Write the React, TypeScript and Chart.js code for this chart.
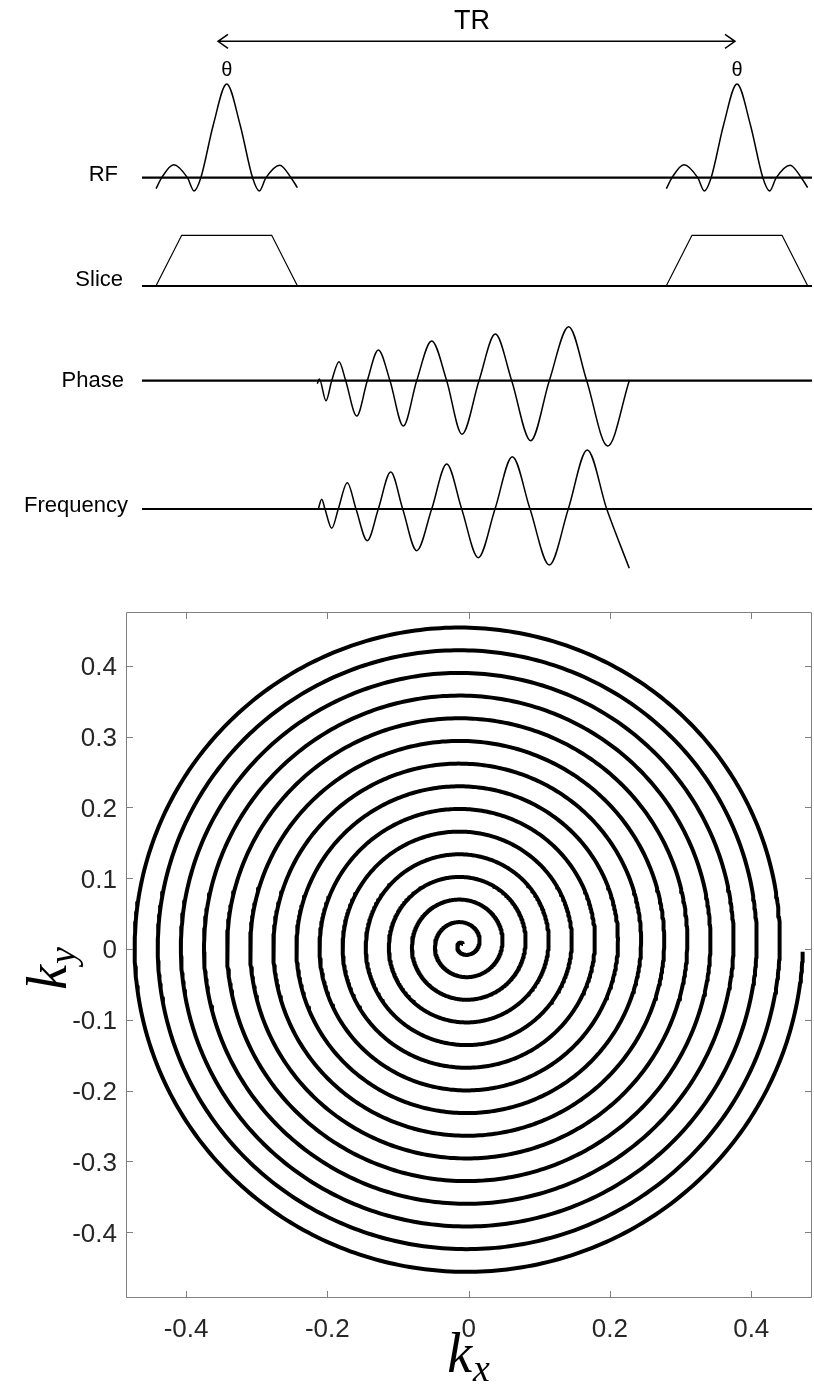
import React, { useEffect, useRef } from "react";
import { Chart, registerables } from "chart.js";

Chart.register(...registerables);

// ---------------- pulse-sequence timing diagram ----------------
// time in units where one repetition (TR) spans 10; amplitudes in a.u.
const TR = 10;

// RF excitation: sinc lobes (time, amplitude)
const rfTime = [-1.385, -1.274, -1.04, -0.77, -0.64, -0.507, -0.262, 0, 0.262, 0.507, 0.64, 0.77, 1.04, 1.26, 1.385];
const rfAmp = [-0.11, 0, 0.13, 0, -0.133, 0, 0.53, 0.937, 0.53, 0, -0.133, 0, 0.125, 0, -0.1];

// slice-select trapezoid
const sliceTime = [-1.387, -0.882, 0.882, 1.387];
const sliceAmp = [0, 0.507, 0.507, 0];

// spiral readout gradient on the phase axis
const phaseTime = [1.776, 1.815, 1.946, 2.058, 2.201, 2.332, 2.548, 2.755, 2.971, 3.2, 3.461, 3.723, 4.017, 4.311, 4.611, 4.944, 5.264, 5.585, 5.957, 6.322, 6.702, 7.055, 7.466, 7.889];
const phaseAmp = [-0.03, 0.017, -0.2, 0, 0.19, 0, -0.353, 0, 0.307, 0, -0.453, 0, 0.397, 0, -0.536, 0, 0.467, 0, -0.6, 0, 0.54, 0, -0.653, 0];

// spiral readout gradient on the frequency axis
const freqTime = [1.795, 1.862, 1.926, 2.058, 2.187, 2.363, 2.534, 2.755, 2.971, 3.214, 3.449, 3.723, 4.017, 4.311, 4.605, 4.93, 5.258, 5.597, 5.944, 6.322, 6.694, 7.066, 7.447, 7.889];
const freqAmp = [0, 0.097, 0, -0.193, 0, 0.263, 0, -0.317, 0, 0.37, 0, -0.417, 0, 0.45, 0, -0.487, 0, 0.523, 0, -0.56, 0, 0.59, 0, -0.593];

const channelNames = ["RF", "Slice", "Phase", "Frequency"];

// ---------------- k-space spiral ----------------
const kxTicks = [-0.4, -0.2, 0, 0.2, 0.4];
const kyTicks = [-0.4, -0.3, -0.2, -0.1, 0, 0.1, 0.2, 0.3, 0.4];
// trajectory: centre offset (from integrating the gradients), radius along kx,
// ky/kx ratio, number of turns and the angle of the final sample
const SPIRAL_CENTER = { kx: -0.008, ky: 0.007 };
const SPIRAL_KMAX = 0.481;
const SPIRAL_ASPECT = 0.979;
const SPIRAL_TURNS = 14.7;
const SPIRAL_END_ANGLE = -0.023;
const SPIRAL_SAMPLES = 6000;

// ---------------- layout ----------------
const SEQ_VIEW = { tMin: -4.4425, tMax: 11.509, yMin: -6, yMax: 0 };
const CHANNEL_BASE = [-1.777, -2.86, -3.807, -5.09];
const BASELINE_SPAN = [-1.66, 11.47];
const CHANNEL_LABEL_POS = [
  { t: -2.13, y: -1.75 },
  { t: -2.032, y: -2.795 },
  { t: -2.013, y: -3.81 },
  { t: -1.934, y: -5.06 },
];
const TR_ARROW = { t0: -0.17, t1: 9.961, y: -0.413, labelT: 4.807, labelY: -0.22 };
const FLIP_LABEL_Y = -0.7;
const K_RANGE = { xMin: -0.485, xMax: 0.486, yMin: -0.493, yMax: 0.476 };

const AXIS_COLOR = "#808080";
const TEXT_COLOR = "#262626";
const SANS = '"Liberation Sans", Arial, sans-serif';
const SERIF = '"Liberation Serif", "DejaVu Serif", serif';

function waveform(time: number[], amp: number[], base: number, shift = 0) {
  return time.map((t, i) => ({ x: t + shift, y: base + amp[i] }));
}

function baseline(base: number) {
  return [
    { x: BASELINE_SPAN[0], y: base },
    { x: BASELINE_SPAN[1], y: base },
  ];
}

// spiral k-space trajectory from the centre out to the last sample
function spiralPoints() {
  const pts: { x: number; y: number }[] = [];
  for (let i = 0; i <= SPIRAL_SAMPLES; i++) {
    const s = i / SPIRAL_SAMPLES;
    const r = SPIRAL_KMAX * s;
    const ang = SPIRAL_END_ANGLE - 2 * Math.PI * SPIRAL_TURNS * (1 - s);
    pts.push({
      x: SPIRAL_CENTER.kx + r * Math.cos(ang),
      y: SPIRAL_CENTER.ky + SPIRAL_ASPECT * r * Math.sin(ang),
    });
  }
  return pts;
}

const seqDecor = {
  id: "seqDecor",
  afterDatasetsDraw(chart: any) {
    const { ctx } = chart;
    const xs = chart.scales.x;
    const ys = chart.scales.y;
    ctx.save();
    ctx.fillStyle = "#000";
    ctx.strokeStyle = "#000";

    // channel names
    ctx.font = `22px ${SANS}`;
    ctx.textAlign = "right";
    ctx.textBaseline = "middle";
    channelNames.forEach((name, i) => {
      const p = CHANNEL_LABEL_POS[i];
      ctx.fillText(name, xs.getPixelForValue(p.t), ys.getPixelForValue(p.y));
    });

    // flip-angle labels above each RF pulse
    ctx.font = `20px ${SANS}`;
    ctx.textAlign = "center";
    [0, TR].forEach((t) => {
      ctx.fillText("θ", xs.getPixelForValue(t), ys.getPixelForValue(FLIP_LABEL_Y));
    });

    // TR double arrow
    const x0 = xs.getPixelForValue(TR_ARROW.t0);
    const x1 = xs.getPixelForValue(TR_ARROW.t1);
    const y = ys.getPixelForValue(TR_ARROW.y);
    ctx.lineWidth = 1.5;
    ctx.beginPath();
    ctx.moveTo(x0, y);
    ctx.lineTo(x1, y);
    ctx.moveTo(x0 + 10, y - 7);
    ctx.lineTo(x0, y);
    ctx.lineTo(x0 + 10, y + 7);
    ctx.moveTo(x1 - 10, y - 7);
    ctx.lineTo(x1, y);
    ctx.lineTo(x1 - 10, y + 7);
    ctx.stroke();

    ctx.font = `27px ${SANS}`;
    ctx.fillText("TR", xs.getPixelForValue(TR_ARROW.labelT), ys.getPixelForValue(TR_ARROW.labelY));
    ctx.restore();
  },
};

const kAxes = {
  id: "kAxes",
  afterDatasetsDraw(chart: any) {
    const { ctx, chartArea: a } = chart;
    const xs = chart.scales.x;
    const ys = chart.scales.y;
    const TICK = 7;
    ctx.save();
    ctx.strokeStyle = AXIS_COLOR;
    ctx.lineWidth = 1;
    ctx.beginPath();
    ctx.rect(a.left + 0.5, a.top + 0.5, a.right - a.left - 1, a.bottom - a.top - 1);
    xs.ticks.forEach((tk: any) => {
      const px = Math.round(xs.getPixelForValue(tk.value)) + 0.5;
      ctx.moveTo(px, a.bottom);
      ctx.lineTo(px, a.bottom - TICK);
      ctx.moveTo(px, a.top);
      ctx.lineTo(px, a.top + TICK);
    });
    ys.ticks.forEach((tk: any) => {
      const py = Math.round(ys.getPixelForValue(tk.value)) + 0.5;
      ctx.moveTo(a.left, py);
      ctx.lineTo(a.left + TICK, py);
      ctx.moveTo(a.right, py);
      ctx.lineTo(a.right - TICK, py);
    });
    ctx.stroke();

    ctx.fillStyle = TEXT_COLOR;
    ctx.font = `26px ${SANS}`;
    ctx.textBaseline = "alphabetic";
    ctx.textAlign = "center";
    xs.ticks.forEach((tk: any) => {
      ctx.fillText(String(tk.value), xs.getPixelForValue(tk.value), a.bottom + 39);
    });
    ctx.textAlign = "right";
    ys.ticks.forEach((tk: any) => {
      ctx.fillText(String(tk.value), a.left - 9, ys.getPixelForValue(tk.value) + 9.5);
    });

    // axis titles k_x and k_y
    ctx.fillStyle = "#000";
    const drawK = (sub: string) => {
      ctx.font = `italic 56px ${SERIF}`;
      const wk = ctx.measureText("k").width;
      ctx.font = `italic 38px ${SERIF}`;
      const ws = ctx.measureText(sub).width;
      const start = -(wk + ws) / 2;
      ctx.textAlign = "left";
      ctx.font = `italic 56px ${SERIF}`;
      ctx.fillText("k", start, 0);
      ctx.font = `italic 38px ${SERIF}`;
      ctx.fillText(sub, start + wk + 1, 9);
    };
    ctx.save();
    ctx.translate((a.left + a.right) / 2 - 1, a.bottom + 74);
    drawK("x");
    ctx.restore();
    ctx.save();
    ctx.translate(66, (a.top + a.bottom) / 2 + 14);
    ctx.rotate(-Math.PI / 2);
    drawK("y");
    ctx.restore();
    ctx.restore();
  },
};

export default function App() {
  const seqRef = useRef<HTMLCanvasElement>(null);
  const kRef = useRef<HTMLCanvasElement>(null);

  useEffect(() => {
    const thin = { borderColor: "#000", borderWidth: 1.5, pointRadius: 0, showLine: true, fill: false };
    const smooth = { ...thin, cubicInterpolationMode: "monotone" as const };
    const base = { borderColor: "#000", borderWidth: 2.2, pointRadius: 0, showLine: true, fill: false };

    const seqChart = new Chart(seqRef.current!, {
      type: "scatter",
      data: {
        datasets: [
          ...CHANNEL_BASE.map((b) => ({ ...base, data: baseline(b) })),
          { ...smooth, data: waveform(rfTime, rfAmp, CHANNEL_BASE[0]) },
          { ...smooth, data: waveform(rfTime, rfAmp, CHANNEL_BASE[0], TR) },
          { ...thin, borderWidth: 1.2, data: waveform(sliceTime, sliceAmp, CHANNEL_BASE[1]) },
          { ...thin, borderWidth: 1.2, data: waveform(sliceTime, sliceAmp, CHANNEL_BASE[1], TR) },
          { ...smooth, data: waveform(phaseTime, phaseAmp, CHANNEL_BASE[2]) },
          { ...smooth, data: waveform(freqTime, freqAmp, CHANNEL_BASE[3]) },
        ],
      },
      options: {
        responsive: false,
        animation: false,
        devicePixelRatio: 1,
        events: [],
        layout: { padding: 0 },
        plugins: { legend: { display: false }, tooltip: { enabled: false } },
        scales: {
          x: { type: "linear", display: false, min: SEQ_VIEW.tMin, max: SEQ_VIEW.tMax },
          y: { type: "linear", display: false, min: SEQ_VIEW.yMin, max: SEQ_VIEW.yMax },
        },
      },
      plugins: [seqDecor],
    });

    const kChart = new Chart(kRef.current!, {
      type: "scatter",
      data: {
        datasets: [
          {
            data: spiralPoints(),
            borderColor: "#000",
            borderWidth: 4,
            pointRadius: 0,
            showLine: true,
            fill: false,
            borderJoinStyle: "round",
            borderCapStyle: "butt",
          },
        ],
      },
      options: {
        responsive: false,
        animation: false,
        devicePixelRatio: 1,
        events: [],
        layout: { padding: { left: 126, top: 12, right: 2, bottom: 94 } },
        plugins: { legend: { display: false }, tooltip: { enabled: false } },
        scales: {
          x: {
            type: "linear",
            display: false,
            min: K_RANGE.xMin,
            max: K_RANGE.xMax,
            afterBuildTicks: (s: any) => {
              s.ticks = kxTicks.map((v) => ({ value: v }));
            },
          },
          y: {
            type: "linear",
            display: false,
            min: K_RANGE.yMin,
            max: K_RANGE.yMax,
            afterBuildTicks: (s: any) => {
              s.ticks = kyTicks.map((v) => ({ value: v }));
            },
          },
        },
      },
      plugins: [kAxes],
    });

    return () => {
      seqChart.destroy();
      kChart.destroy();
    };
  }, []);

  return (
    <div style={{ position: "absolute", left: 0, top: 0, width: 814, height: 1392, background: "#fff" }}>
      <canvas ref={seqRef} width={814} height={600} style={{ position: "absolute", left: 0, top: 0 }} />
      <canvas ref={kRef} width={814} height={792} style={{ position: "absolute", left: 0, top: 600 }} />
    </div>
  );
}
